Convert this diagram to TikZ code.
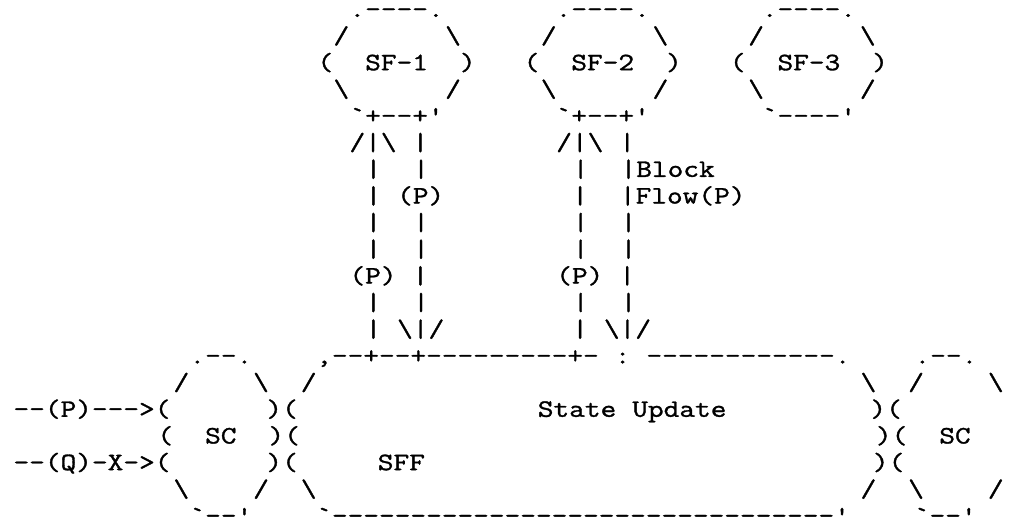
\documentclass[tikz,border=0pt]{standalone}
\usepackage{graphicx}
\usepackage{fontspec}
\setmonofont{Latin Modern Mono}[FakeBold=1.2]

\newlength\colw
\setlength\colw{12pt}
\newsavebox\rowbox
\newcommand\gap[1]{\kern#1\colw}
\newcommand\bksl{\textbackslash}

\tikzset{
	asciirow/.style={anchor=base west,inner sep=0pt,outer sep=0pt,
		font=\ttfamily\fontsize{22.857pt}{22.857pt}\selectfont,
		execute at begin node={\setbox\rowbox\hbox\bgroup},
		execute at end node={\egroup\scalebox{1}[0.82]{\usebox\rowbox}}},
	toprow/.style={asciirow,text height=0.3em},
	lowrow/.style={asciirow,text depth=-0.2em}
}

\begin{document}
\begin{tikzpicture}[x=12pt,y=-19.995pt]

		\useasboundingbox (-0.844,-0.634) rectangle (62.219,18.796);

		%%% service functions
		\node[toprow] (row0) at (0,0) {\gap{21}.----.\gap7.----.\gap7.----.};
		\node[asciirow] (row1) at (0,1) {\gap{20}/\gap6\bksl\gap5/\gap6\bksl\gap5/\gap6\bksl};
		\node[asciirow] (row2) at (0,2) {\gap{19}(\gap2SF-1\gap2)\gap3(\gap2SF-2\gap2)\gap3(\gap2SF-3\gap2)};
		\node[asciirow] (row3) at (0,3) {\gap{20}\bksl\gap6/\gap5\bksl\gap6/\gap5\bksl\gap6/};
		\node[asciirow] (row4) at (0,4) {\gap{21}`+--+'\gap7`+--+'\gap7`----'};

		%%% flows between SF and SFF
		\node[asciirow] (row5) at (0,5) {\gap{21}/|\bksl\gap1|\gap8/|\bksl\gap1|};
		\node[asciirow] (row6) at (0,6) {\gap{22}|\gap2|\gap9|\gap2|Block};
		\node[asciirow] (row7) at (0,7) {\gap{22}|\gap1(P)\gap8|\gap2|Flow(P)};
		\node[asciirow] (row8) at (0,8) {\gap{22}|\gap2|\gap9|\gap2|};
		\node[asciirow] (row9) at (0,9) {\gap{22}|\gap2|\gap9|\gap2|};
		\node[asciirow] (row10) at (0,10) {\gap{21}(P)\gap1|\gap8(P)\gap1|};
		\node[asciirow] (row11) at (0,11) {\gap{22}|\gap2|\gap9|\gap2|};
		\node[asciirow] (row12) at (0,12) {\gap{22}|\gap1\bksl|/\gap8|\gap1\bksl|/};

		%%% classifiers and SFF
		\node[asciirow] (row13) at (0,13) {\gap{11}.--.\gap4,--+--+---------+-\gap1:\gap1------------.\gap4.--.};
		\node[asciirow] (row14) at (0,14) {\gap{10}/\gap4\bksl\gap2/\gap{34}\bksl\gap2/\gap4\bksl};
		\node[asciirow] (row15) at (0,15) {--(P)--->(\gap6)(\gap{15}State\gap1Update\gap9)(};
		\node[asciirow] (row16) at (0,16) {\gap9(\gap2SC\gap2)(\gap{36})(\gap2SC};
		\node[asciirow] (row17) at (0,17) {--(Q)-X->(\gap6)(\gap5SFF\gap{28})(};
		\node[asciirow] (row18) at (0,18) {\gap{10}\bksl\gap4/\gap2\bksl\gap{34}/\gap2\bksl\gap4/};
		\node[lowrow] (row19) at (0,19) {\gap{11}`--'\gap4`--------------------------------'\gap4`--'};

	\end{tikzpicture}
\end{document}
